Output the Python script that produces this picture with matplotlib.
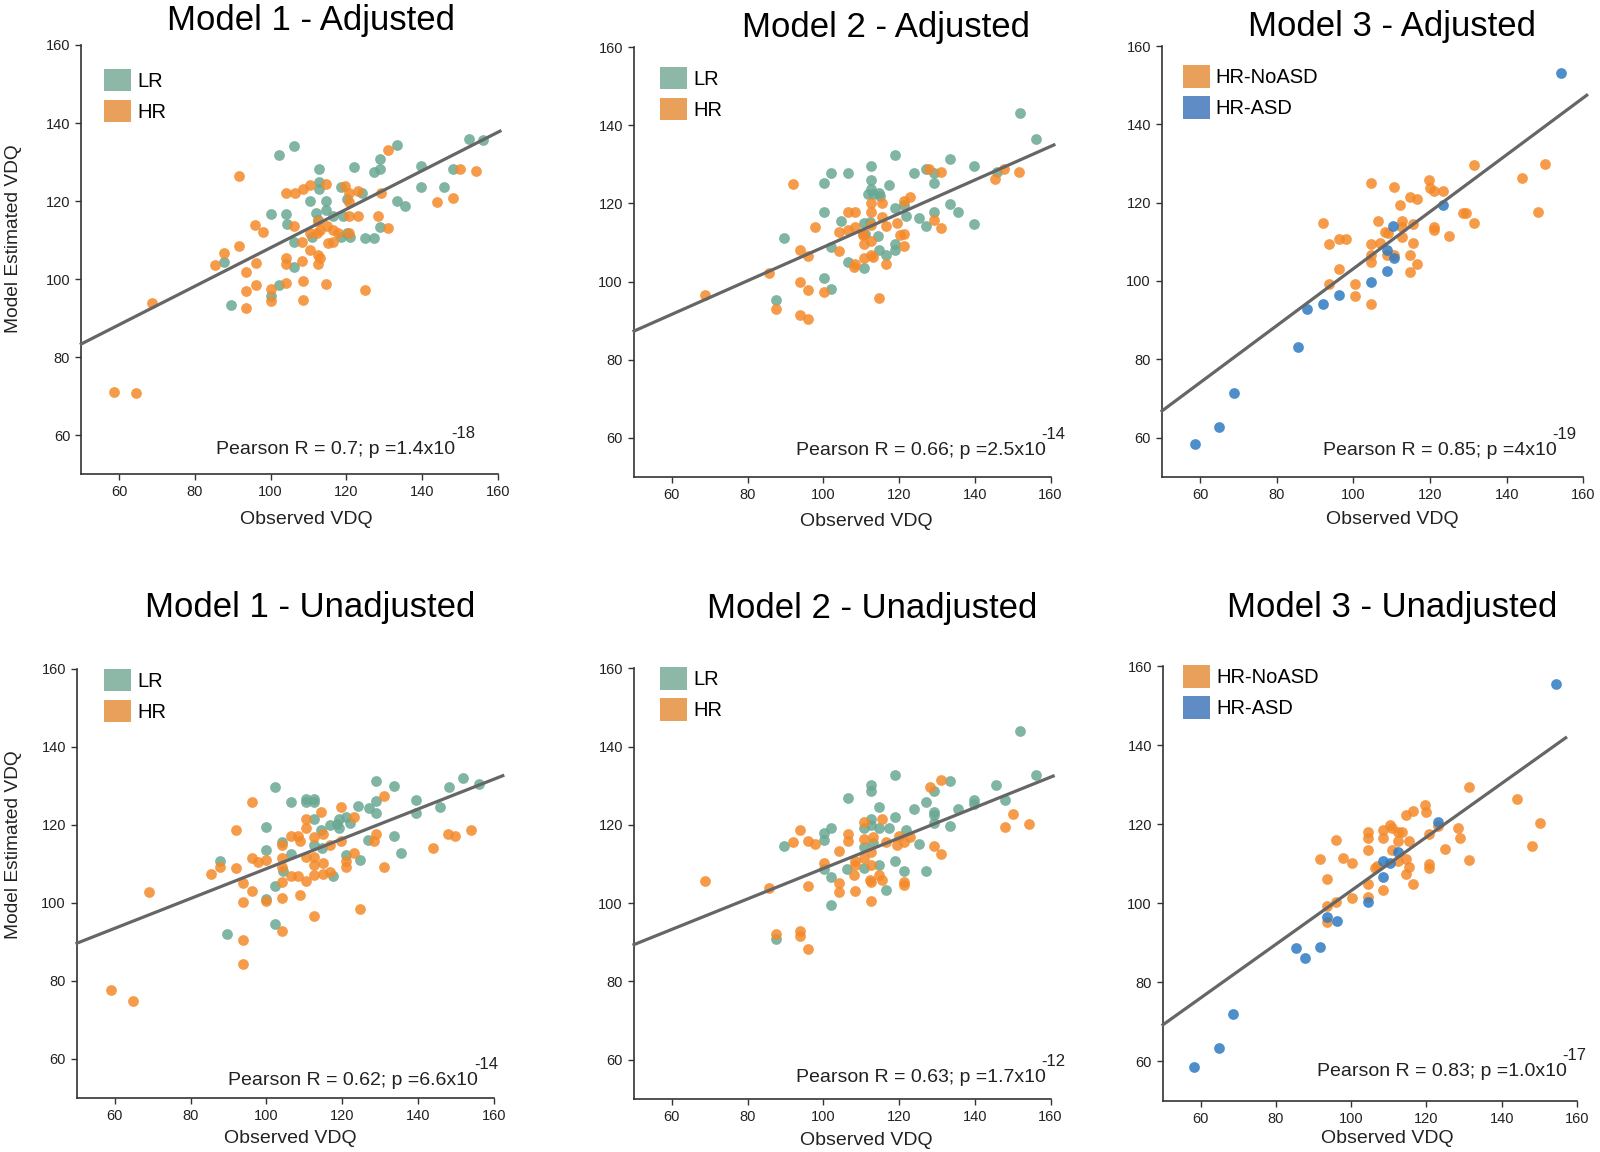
import matplotlib
matplotlib.use("Agg")
import matplotlib.pyplot as plt
from matplotlib.patches import Patch
import numpy as np

plt.rcParams['font.family'] = ['Liberation Sans', 'DejaVu Sans']

# ---------------- data ----------------
titles = ["Model 1 - Adjusted", "Model 2 - Adjusted", "Model 3 - Adjusted",
          "Model 1 - Unadjusted", "Model 2 - Unadjusted", "Model 3 - Unadjusted"]
stats_main = ["Pearson R = 0.7; p =1.4x10", "Pearson R = 0.66; p =2.5x10", "Pearson R = 0.85; p =4x10",
              "Pearson R = 0.62; p =6.6x10", "Pearson R = 0.63; p =1.7x10", "Pearson R = 0.83; p =1.0x10"]
stats_exp = ["-18", "-14", "-19", "-14", "-12", "-17"]
x_label = "Observed VDQ"
y_label = "Model Estimated VDQ"
ticks = [60, 80, 100, 120, 140, 160]

# Panel 1: Model 1 adjusted
p1_lr_x = [87.8, 89.5, 102.2, 106.3, 100.1, 104.1, 104.4, 106.2, 106.2, 102.2, 100.1, 110.4, 112.7, 112.7, 112.7,
           111.9, 114.7, 114.7, 112.6, 110.9, 116.6, 118.5, 119.1, 118.7, 121.0, 122.1, 124.1, 125.0, 127.3, 127.2,
           128.9, 128.9, 128.9, 133.5, 133.5, 135.5, 139.7, 139.7, 145.8, 148.1, 152.3, 156.2, 120.2, 120.2]
p1_lr_y = [104.4, 93.3, 131.7, 134.1, 116.8, 116.8, 114.2, 109.4, 103.1, 98.4, 95.8, 120.1, 128.2, 124.8, 123.0,
           117.0, 120.1, 117.7, 115.2, 110.9, 116.1, 123.5, 116.1, 110.9, 110.9, 128.8, 122.0, 110.5, 110.5, 127.4,
           130.8, 128.2, 113.3, 134.5, 120.1, 118.7, 128.9, 123.5, 123.5, 128.1, 136.0, 135.6, 111.9, 120.6]
p1_hr_x = [58.6, 64.5, 68.6, 85.4, 87.7, 91.7, 91.7, 93.5, 93.5, 93.5, 95.9, 97.9, 96.1, 96.2, 100.1,
           100.1, 104.0, 106.5, 104.0, 104.0, 104.1, 106.2, 108.5, 110.3, 108.2, 108.2, 108.5, 108.5, 110.4, 112.6,
           112.6, 113.1, 114.7, 114.7, 110.4, 112.2, 113.1, 114.8, 116.4, 117.7, 116.6, 115.3, 119.7, 120.6, 120.8,
           120.8, 120.8, 123.2, 123.2, 125.0, 128.5, 129.2, 131.1, 131.1, 143.9, 148.1, 150.1, 154.2, 112.6]
p1_hr_y = [71.1, 70.9, 93.8, 103.7, 106.8, 126.5, 108.5, 101.8, 96.9, 92.6, 113.9, 112.0, 104.2, 98.6, 97.5,
           94.5, 122.2, 122.0, 105.3, 104.0, 99.1, 113.7, 123.2, 124.1, 109.4, 104.7, 99.5, 94.6, 107.4, 106.1,
           104.0, 105.3, 124.3, 98.8, 111.8, 111.8, 112.6, 113.5, 112.6, 111.8, 109.6, 109.2, 123.9, 122.2, 119.7,
           116.1, 111.8, 122.6, 116.1, 97.3, 116.1, 122.0, 133.2, 113.2, 119.7, 120.8, 128.1, 127.6, 114.8]

# Panel 2: Model 2 adjusted
p2_lr_x = [87.5, 89.6, 100.2, 102.0, 106.4, 100.2, 100.2, 102.1, 102.1, 104.6, 106.4, 110.7, 110.7, 112.5, 112.5,
           112.5, 111.8, 113.1, 114.7, 114.9, 114.5, 114.7, 116.6, 117.3, 118.8, 118.8, 118.8, 118.8, 121.2, 121.9,
           124.0, 125.2, 127.0, 127.0, 129.2, 129.2, 129.2, 133.4, 133.4, 135.6, 139.7, 139.7, 145.9, 152.0, 156.2,
           110.9, 112.2]
p2_lr_y = [95.2, 111.2, 125.3, 127.7, 127.7, 117.7, 101.0, 98.0, 108.8, 115.5, 104.9, 103.4, 114.9, 129.6, 126.0,
           123.6, 122.5, 122.3, 122.7, 121.8, 111.6, 108.0, 106.7, 124.6, 132.4, 118.8, 109.7, 108.1, 119.7, 116.9,
           127.7, 116.2, 128.9, 114.2, 125.3, 117.7, 127.7, 131.4, 119.8, 117.9, 129.6, 114.7, 128.1, 143.1, 136.6,
           112.3, 115.3]
p2_hr_x = [68.7, 85.6, 87.5, 92.0, 93.8, 93.8, 93.8, 96.0, 96.0, 96.0, 97.9, 100.2, 104.2, 104.2, 106.4,
           108.4, 106.4, 108.4, 108.4, 108.2, 110.4, 110.7, 110.7, 112.5, 112.5, 112.5, 112.5, 112.5, 113.1, 115.5,
           115.5, 114.7, 116.6, 116.6, 119.4, 120.3, 121.2, 121.2, 121.2, 123.0, 127.9, 129.2, 131.2, 131.2, 145.4,
           147.7, 151.7, 110.4]
p2_hr_y = [96.5, 102.1, 93.0, 124.9, 108.1, 100.0, 91.5, 106.5, 97.7, 90.4, 114.0, 97.4, 112.7, 107.8, 117.9,
           117.7, 113.2, 114.0, 104.5, 103.6, 112.3, 109.7, 106.1, 120.1, 117.9, 114.5, 110.4, 106.9, 106.2, 120.1,
           116.6, 95.8, 104.5, 114.2, 115.1, 112.0, 112.3, 109.0, 120.5, 121.7, 128.9, 115.8, 128.1, 113.6, 126.3,
           128.9, 128.1, 111.9]

# Panel 3: Model 3 adjusted
p3_no_x = [92.0, 93.7, 93.7, 96.1, 98.1, 96.1, 100.4, 100.4, 104.6, 104.6, 104.6, 104.6, 104.6, 106.5, 106.8,
           108.3, 109.1, 108.7, 110.6, 110.6, 112.2, 112.6, 112.6, 112.6, 114.8, 116.7, 115.5, 115.5, 114.8, 114.8,
           116.7, 119.8, 120.0, 120.9, 123.3, 120.9, 120.9, 125.0, 128.5, 129.4, 131.5, 131.5, 143.9, 148.3, 150.0]
p3_no_y = [114.9, 109.5, 99.1, 110.8, 110.7, 103.1, 99.1, 96.1, 125.1, 109.5, 106.5, 104.8, 94.0, 115.4, 109.7,
           112.6, 112.2, 106.5, 123.9, 106.5, 119.5, 115.2, 113.9, 111.3, 121.5, 120.8, 114.6, 109.8, 106.6, 102.3,
           104.2, 125.7, 123.8, 122.9, 122.9, 113.9, 113.0, 111.4, 117.3, 117.3, 129.6, 114.7, 126.4, 117.5, 129.8]
p3_asd_x = [58.5, 65.0, 68.9, 85.6, 87.8, 92.0, 96.1, 104.6, 108.7, 108.7, 110.6, 110.4, 123.3, 154.2]
p3_asd_y = [58.4, 62.8, 71.4, 83.1, 92.9, 94.0, 96.5, 99.6, 102.5, 107.9, 105.9, 114.1, 119.5, 153.1]

# Panel 4: Model 1 unadjusted
p4_lr_x = [87.7, 89.7, 100.0, 100.0, 100.0, 102.3, 102.3, 102.3, 104.2, 104.5, 106.4, 106.4, 110.4, 110.4, 112.5,
           112.5, 112.5, 112.5, 114.5, 114.7, 116.9, 117.5, 118.7, 119.1, 120.9, 119.1, 122.0, 120.9, 124.1, 124.8,
           127.0, 126.8, 129.0, 129.0, 129.0, 133.6, 133.6, 135.4, 139.5, 139.5, 145.7, 148.1, 151.8, 156.1]
p4_lr_y = [110.7, 92.0, 119.6, 113.5, 100.9, 129.7, 104.4, 94.5, 115.6, 108.2, 126.0, 112.6, 126.0, 126.7, 126.7,
           126.0, 121.5, 115.0, 118.7, 114.0, 119.9, 106.8, 120.3, 121.5, 122.0, 119.2, 120.6, 112.4, 124.8, 111.0,
           124.3, 116.2, 131.3, 126.2, 123.2, 129.9, 117.3, 112.9, 126.4, 123.2, 124.6, 129.7, 132.1, 130.4]
p4_hr_x = [58.9, 64.7, 68.9, 85.5, 87.7, 91.9, 91.9, 93.9, 93.9, 93.9, 93.9, 96.1, 96.1, 96.1, 97.8,
           100.0, 100.0, 104.2, 104.2, 104.2, 104.2, 104.2, 104.2, 106.6, 106.4, 108.4, 108.8, 108.4, 108.8, 110.4,
           110.4, 110.5, 110.5, 112.5, 112.5, 112.5, 112.5, 114.5, 115.0, 115.0, 115.0, 116.9, 116.9, 119.7, 119.7,
           120.9, 120.9, 123.2, 123.2, 124.8, 128.3, 129.0, 131.1, 131.1, 143.9, 147.9, 149.8, 153.9, 112.5]
p4_hr_y = [77.8, 74.9, 102.8, 107.5, 109.3, 118.7, 108.9, 105.1, 100.3, 90.4, 84.3, 126.0, 111.5, 103.1, 110.6,
           111.0, 100.6, 115.0, 111.5, 109.3, 105.3, 101.4, 92.8, 117.3, 107.0, 117.3, 115.9, 107.0, 102.1, 121.5,
           119.2, 111.7, 105.6, 116.8, 111.7, 107.2, 96.7, 123.4, 117.8, 110.3, 107.5, 114.8, 107.9, 124.6, 115.9,
           110.7, 109.2, 122.0, 112.9, 98.4, 115.9, 117.6, 127.4, 109.3, 114.0, 117.6, 117.3, 118.7, 109.8]

# Panel 5: Model 2 unadjusted
p5_lr_x = [87.5, 89.6, 100.2, 100.2, 102.0, 102.0, 102.0, 100.2, 106.4, 106.3, 110.7, 110.7, 112.5, 112.5, 112.5,
           112.5, 113.1, 110.7, 114.7, 114.7, 114.7, 116.6, 117.3, 118.8, 118.8, 118.8, 121.9, 121.2, 124.0, 125.2,
           127.0, 127.0, 129.2, 129.2, 129.2, 129.2, 133.4, 133.4, 135.6, 139.7, 139.7, 145.7, 147.9, 152.0, 156.2]
p5_lr_y = [90.9, 114.7, 118.0, 116.1, 119.1, 106.8, 99.5, 108.8, 126.8, 108.8, 109.0, 114.4, 130.3, 128.6, 121.4,
           120.0, 115.4, 119.1, 124.5, 119.1, 109.8, 103.4, 119.1, 132.8, 122.1, 110.7, 118.6, 108.2, 124.0, 115.2,
           125.9, 108.2, 128.6, 123.3, 122.6, 120.5, 131.1, 119.8, 124.0, 126.4, 125.4, 130.3, 126.4, 144.1, 132.8]
p5_hr_x = [68.7, 85.6, 87.5, 92.0, 93.8, 93.8, 93.8, 96.0, 96.0, 96.0, 97.9, 100.2, 104.2, 104.2, 104.2,
           106.4, 106.4, 108.4, 108.4, 108.2, 108.4, 110.7, 110.7, 110.7, 112.2, 112.5, 112.5, 112.5, 112.5, 113.1,
           115.5, 114.7, 115.5, 116.6, 119.4, 120.0, 121.2, 121.2, 121.2, 123.0, 128.1, 129.2, 131.2, 131.2, 147.9,
           150.2, 154.2]
p5_hr_y = [105.6, 103.9, 92.0, 115.6, 118.6, 92.8, 91.6, 115.8, 104.4, 88.3, 115.2, 110.2, 113.3, 105.1, 102.8,
           117.7, 115.8, 110.7, 109.8, 107.2, 103.2, 120.8, 116.5, 111.6, 106.0, 113.0, 109.8, 105.3, 100.6, 116.8,
           121.4, 107.2, 106.0, 115.6, 114.9, 117.2, 115.6, 105.3, 104.6, 116.8, 129.6, 114.7, 131.4, 112.6, 119.4,
           122.8, 120.2]

# Panel 6: Model 3 unadjusted
p6_no_x = [91.7, 93.7, 93.7, 93.7, 96.0, 96.0, 97.9, 100.3, 100.3, 104.4, 104.4, 104.4, 104.4, 104.4, 106.3,
           106.8, 108.4, 108.5, 108.5, 110.3, 110.8, 110.8, 112.5, 113.4, 112.5, 112.5, 114.6, 116.5, 115.4, 114.6,
           115.4, 114.6, 116.5, 119.6, 119.9, 120.8, 120.8, 120.8, 123.0, 124.9, 128.3, 128.9, 131.3, 131.3, 144.0,
           148.1, 150.2]
p6_no_y = [111.1, 106.2, 99.2, 95.2, 115.9, 100.2, 111.5, 110.1, 101.4, 118.0, 116.4, 113.4, 104.8, 101.5, 109.0,
           109.4, 118.5, 116.4, 103.2, 119.7, 118.9, 113.4, 118.0, 118.0, 115.7, 110.6, 122.2, 123.4, 115.7, 111.1,
           109.2, 107.4, 104.8, 124.9, 123.1, 117.4, 109.9, 108.9, 119.6, 113.6, 119.1, 116.6, 129.3, 110.8, 126.3,
           114.5, 120.3]
p6_asd_x = [58.3, 64.9, 68.7, 85.3, 87.7, 91.7, 93.7, 96.1, 104.4, 108.5, 108.5, 110.3, 112.5, 123.0, 154.3]
p6_asd_y = [58.5, 63.2, 71.9, 88.6, 86.1, 89.0, 96.4, 95.5, 100.2, 106.7, 110.6, 110.1, 112.9, 120.6, 155.4]

# regression fit lines (slope, intercept, x-range end)
fit_slope = [0.493, 0.430, 0.727, 0.382, 0.389, 0.679]
fit_intercept = [58.75, 65.8, 30.45, 70.6, 69.95, 35.25]
fit_x_end = [160.6, 160.9, 160.9, 162.4, 160.7, 157.0]

groups = [
    [("LR", p1_lr_x, p1_lr_y), ("HR", p1_hr_x, p1_hr_y)],
    [("LR", p2_lr_x, p2_lr_y), ("HR", p2_hr_x, p2_hr_y)],
    [("HR-NoASD", p3_no_x, p3_no_y), ("HR-ASD", p3_asd_x, p3_asd_y)],
    [("LR", p4_lr_x, p4_lr_y), ("HR", p4_hr_x, p4_hr_y)],
    [("LR", p5_lr_x, p5_lr_y), ("HR", p5_hr_x, p5_hr_y)],
    [("HR-NoASD", p6_no_x, p6_no_y), ("HR-ASD", p6_asd_x, p6_asd_y)],
]

# ---------------- styling ----------------
point_color = {"LR": "#6aa893", "HR": "#f48a2a", "HR-NoASD": "#f48a2a", "HR-ASD": "#2f7cc2"}
patch_color = {"LR": "#8db8a7", "HR": "#e9a05b", "HR-NoASD": "#e9a05b", "HR-ASD": "#5f8cc4"}

W, H = 1600, 1152
fig = plt.figure(figsize=(16, 11.52), dpi=100)

# axes boxes in pixels: left, right, top, bottom
boxes = [(81.3, 497.7, 45.0, 474.3), (634.0, 1050.5, 47.3, 476.7), (1162.0, 1583.3, 46.0, 476.7),
         (77.0, 493.7, 669.0, 1098.0), (634.0, 1050.5, 668.3, 1098.8), (1163.0, 1577.0, 666.1, 1100.6)]
title_pos = [(311, 29.8), (886, 36.5), (1391.5, 35.8), (310, 617.2), (872.5, 617.6), (1392, 617.2)]
stat_pos = [(475, 453.5), (1065.7, 454.7), (1576.7, 454.7), (498.3, 1085.3), (1065.7, 1081.6), (1586.7, 1076.2)]
legend_anchor = [(0.0545, 0.945), (0.0624, 0.955), (0.049, 0.956), (0.065, 1.001), (0.0624, 1.003), (0.0476, 1.002)]
xlabel_pos = [(0.54, -0.086), (0.557, -0.084), (0.546, -0.080), (0.513, -0.074), (0.557, -0.076), (0.543, -0.067)]
ylabel_pos = {0: (-0.142, 0.548), 3: (-0.133, 0.591)}

renderer = fig.canvas.get_renderer()

for i in range(6):
    l, r, t, b = boxes[i]
    ax = fig.add_axes([l / W, 1 - b / H, (r - l) / W, (b - t) / H])
    for lab, xs, ys in groups[i]:
        ax.scatter(xs, ys, s=60, color=point_color[lab], alpha=0.85, linewidths=0, zorder=2)
    xl = np.array([50.0, fit_x_end[i]])
    ax.plot(xl, fit_slope[i] * xl + fit_intercept[i], color="#666666", lw=2.3, zorder=3, clip_on=False)
    ax.set_xlim(50, 160)
    ax.set_ylim(50, 160)
    ax.set_xticks(ticks)
    ax.set_yticks(ticks)
    for s in ["top", "right"]:
        ax.spines[s].set_visible(False)
    for s in ["left", "bottom"]:
        ax.spines[s].set_color("#333333")
        ax.spines[s].set_linewidth(1.2)
    ax.tick_params(axis="both", labelsize=10.5, length=4, width=1, color="#333333",
                   labelcolor="#222222", pad=4)
    ax.set_xlabel(x_label, fontsize=14, color="#222222")
    ax.xaxis.set_label_coords(*xlabel_pos[i])
    if i in ylabel_pos:
        ax.set_ylabel(y_label, fontsize=13.8, color="#222222")
        ax.yaxis.set_label_coords(*ylabel_pos[i])
    handles = [Patch(facecolor=patch_color[lab], edgecolor="none", label=lab) for lab, _, _ in groups[i]]
    ax.legend(handles=handles, loc="upper left", bbox_to_anchor=legend_anchor[i], frameon=False,
              fontsize=14.5, handlelength=1.35, handleheight=1.35, handletextpad=0.3,
              labelspacing=0.42, borderaxespad=0, borderpad=0)
    fig.text(title_pos[i][0] / W, 1 - title_pos[i][1] / H, titles[i], fontsize=25,
             ha="center", va="baseline", color="black")
    # exponent first (right aligned), then main text ending at exponent's left edge
    ex = fig.text(stat_pos[i][0] / W, 1 - (stat_pos[i][1] - 16) / H, stats_exp[i], fontsize=12,
                  ha="right", va="baseline", color="#222222")
    ex_left = ex.get_window_extent(renderer=renderer).x0
    fig.text((ex_left + 4) / W, 1 - stat_pos[i][1] / H, stats_main[i], fontsize=14,
             ha="right", va="baseline", color="#222222")

fig.savefig("out.png", dpi=100)
